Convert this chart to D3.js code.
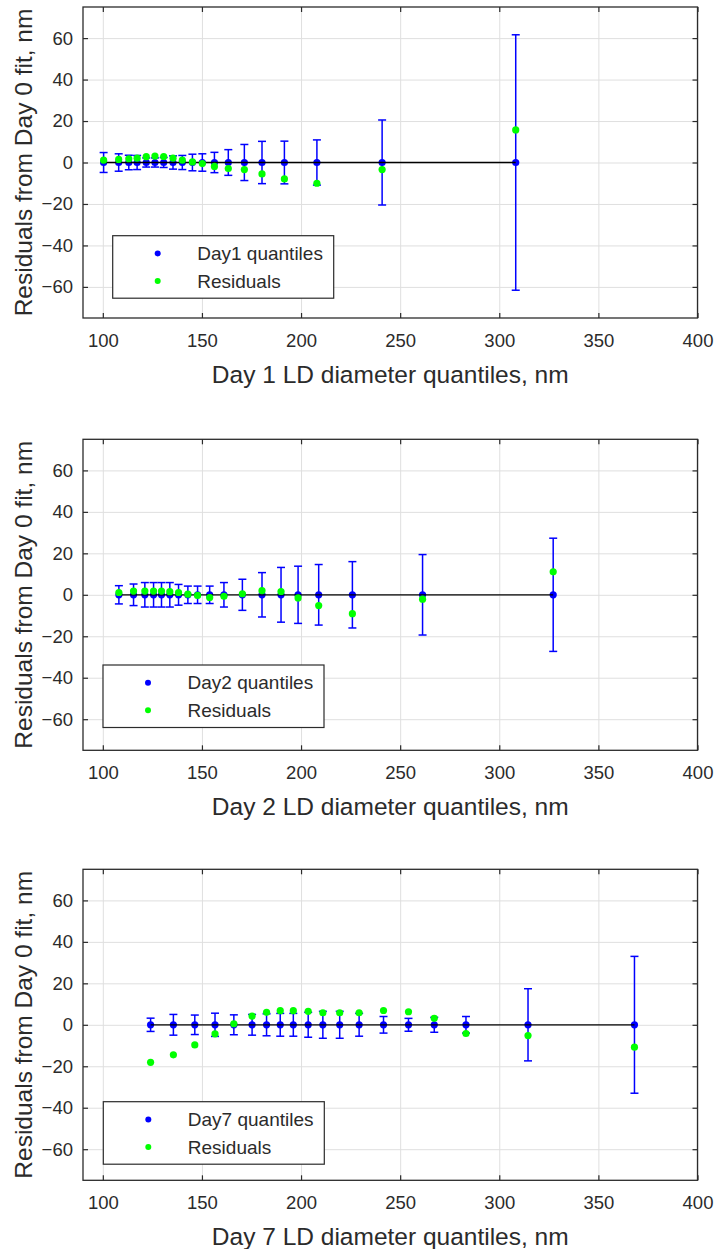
<!DOCTYPE html>
<html>
<head>
<meta charset="utf-8">
<script src="https://cdn.jsdelivr.net/npm/d3@7"></script>
<style>
  body { margin: 0; background: #fff; }
  svg { display: block; font-family: "Liberation Sans", Arial, sans-serif; }
</style>
</head>
<body>
<svg id="chart" width="717" height="1249"></svg>
<script>
// tick values shared by the three panels
const xTicks = [100, 150, 200, 250, 300, 350, 400];
const yTicks = [-60, -40, -20, 0, 20, 40, 60];

// Day 1
const day1X = [100.4, 108, 113.1, 117.3, 121.9, 126.3, 130.7, 135.4, 140.1, 145.2, 150.2, 156.3, 163.3, 171.4, 180.3, 191.6, 208, 240.9, 308.3];
const day1Res = [1.1, 1.5, 1.8, 2.1, 2.8, 3.1, 2.9, 2.1, 1.1, 0.3, -0.5, -1.9, -2.9, -3.4, -5.5, -7.9, -10, -3.4, 15.7];
const day1Err = [4.8, 4.2, 3.5, 3.4, 2.2, 2.2, 2.4, 3.2, 3.4, 4.0, 4.2, 4.9, 6.2, 8.7, 10.2, 10.3, 10.9, 20.5, 61.6];

// Day 2
const day2X = [108.1, 115.5, 121.2, 125.6, 129.6, 133.8, 138.2, 142.9, 147.8, 153.9, 161.1, 170.4, 180.3, 189.9, 198.5, 208.9, 225.9, 261.3, 327.2];
const day2Res = [1.1, 1.8, 1.8, 1.8, 1.8, 1.5, 1.1, 0.3, -0.3, -1.3, -0.7, 0.5, 2, 1.6, -1.5, -5.2, -9.1, -2.1, 11.1];
const day2Err = [4.4, 5.2, 5.9, 5.9, 5.9, 5.9, 5, 4.2, 4.2, 4.2, 5.9, 7.5, 10.7, 13.2, 13.8, 14.6, 16, 19.4, 27.3];

// Day 7
const day7X = [124.1, 135.6, 146.4, 156.6, 166.1, 175.3, 182.6, 189.5, 196.1, 203.6, 211, 219.5, 229.3, 241.6, 254.2, 267.2, 283.2, 314.5, 368.2];
const day7Res = [-18.1, -14.5, -9.7, -4.4, 0.5, 4.2, 6, 6.8, 6.8, 6.5, 5.8, 5.8, 5.8, 6.9, 6.3, 3.1, -4.2, -5.2, -10.8];
const day7Err = [3.2, 5, 4.7, 5.6, 4.8, 5, 5.3, 5.5, 5.5, 6, 6.5, 6.5, 5.5, 4, 3.1, 3.6, 4, 17.4, 33];

const xLabels = ["Day 1 LD diameter quantiles, nm", "Day 2 LD diameter quantiles, nm", "Day 7 LD diameter quantiles, nm"];
const legendNames = ["Day1 quantiles", "Day2 quantiles", "Day7 quantiles"];
const yLabel = "Residuals from Day 0 fit, nm";

const panels = [
  { x: day1X, res: day1Res, err: day1Err, top: 7, leg: [112.7, 235.7] },
  { x: day2X, res: day2Res, err: day2Err, top: 439.3, leg: [103, 665] },
  { x: day7X, res: day7Res, err: day7Err, top: 869.3, leg: [103.3, 1101.7] }
];

const left = 83, width = 614.5, height = 311;
const axisColor = "#2b2b2b";

const svg = d3.select("#chart");

panels.forEach((p, k) => {
  const xscale = d3.scaleLinear().domain([90, 400]).range([0, width]);
  const yscale = d3.scaleLinear().domain([-75, 75]).range([height, 0]);
  const g = svg.append("g").attr("transform", `translate(${left},${p.top})`);

  // grid
  g.append("g").attr("class", "grid")
    .attr("transform", `translate(0,${height})`)
    .call(d3.axisBottom(xscale).tickValues(xTicks).tickSize(-height).tickFormat(""));
  g.append("g").attr("class", "grid")
    .call(d3.axisLeft(yscale).tickValues(yTicks).tickSize(-width).tickFormat(""));
  g.selectAll(".grid .domain").remove();
  g.selectAll(".grid line").attr("stroke", "#dfdfdf").attr("stroke-width", 1);

  // error bars
  const rows = p.x.map((v, i) => ({ x: v, r: p.res[i], e: p.err[i] }));
  const bars = g.append("g").attr("stroke", "#0000ff").attr("stroke-width", 1.5);
  bars.selectAll(".v").data(rows).enter().append("line")
    .attr("x1", d => xscale(d.x)).attr("x2", d => xscale(d.x))
    .attr("y1", d => yscale(d.e)).attr("y2", d => yscale(-d.e));
  [1, -1].forEach(s => {
    bars.selectAll(".c" + s).data(rows).enter().append("line")
      .attr("x1", d => xscale(d.x) - 4).attr("x2", d => xscale(d.x) + 4)
      .attr("y1", d => yscale(s * d.e)).attr("y2", d => yscale(s * d.e));
  });

  // quantile dots at zero
  g.append("g").selectAll("circle").data(rows).enter().append("circle")
    .attr("cx", d => xscale(d.x)).attr("cy", yscale(0)).attr("r", 3.6)
    .attr("fill", "#0000ff");

  // zero line
  g.append("line")
    .attr("x1", xscale(d3.min(p.x))).attr("x2", xscale(d3.max(p.x)))
    .attr("y1", yscale(0)).attr("y2", yscale(0))
    .attr("stroke", "#000").attr("stroke-width", 1.3);

  // residuals
  g.append("g").selectAll("circle").data(rows).enter().append("circle")
    .attr("cx", d => xscale(d.x)).attr("cy", d => yscale(d.r)).attr("r", 3.6)
    .attr("fill", "#00ff00");

  // axes (ticks inward on all four sides)
  const xa = g.append("g").attr("transform", `translate(0,${height})`)
    .call(d3.axisBottom(xscale).tickValues(xTicks).tickSize(-5).tickPadding(16));
  const xt = g.append("g")
    .call(d3.axisTop(xscale).tickValues(xTicks).tickSize(-5).tickFormat(""));
  const ya = g.append("g")
    .call(d3.axisLeft(yscale).tickValues(yTicks).tickSize(-5).tickPadding(10));
  const yr = g.append("g").attr("transform", `translate(${width},0)`)
    .call(d3.axisRight(yscale).tickValues(yTicks).tickSize(-5).tickFormat(""));
  [xa, xt, ya, yr].forEach(a => {
    a.select(".domain").remove();
    a.selectAll("line").attr("stroke", axisColor).attr("stroke-width", 1.2);
    a.selectAll("text").attr("fill", axisColor).style("font-size", "18.5px")
      .style("font-family", "'Liberation Sans', Arial, sans-serif");
  });

  g.append("rect").attr("width", width).attr("height", height)
    .attr("fill", "none").attr("stroke", axisColor).attr("stroke-width", 1.3);

  // axis labels
  g.append("text").attr("x", width / 2).attr("y", height + 65)
    .attr("text-anchor", "middle").attr("fill", axisColor)
    .style("font-size", "24.5px").text(xLabels[k]);
  g.append("text")
    .attr("transform", `translate(${32 - left},${height / 2}) rotate(-90)`)
    .attr("text-anchor", "middle").attr("fill", axisColor)
    .style("font-size", "24.5px").text(yLabel);

  // legend
  const lg = svg.append("g").attr("transform", `translate(${p.leg[0]},${p.leg[1]})`);
  lg.append("rect").attr("width", 221).attr("height", 62.5)
    .attr("fill", "#fff").attr("stroke", axisColor).attr("stroke-width", 1.2);
  [["#0000ff", legendNames[k]], ["#00ff00", "Residuals"]].forEach((it, j) => {
    const yy = 17.8 + j * 27.4;
    lg.append("circle").attr("cx", 45).attr("cy", yy).attr("r", 3).attr("fill", it[0]);
    lg.append("text").attr("x", 84.5).attr("y", yy).attr("dy", "0.35em")
      .attr("fill", axisColor).style("font-size", "19px").text(it[1]);
  });
});
</script>
</body>
</html>
